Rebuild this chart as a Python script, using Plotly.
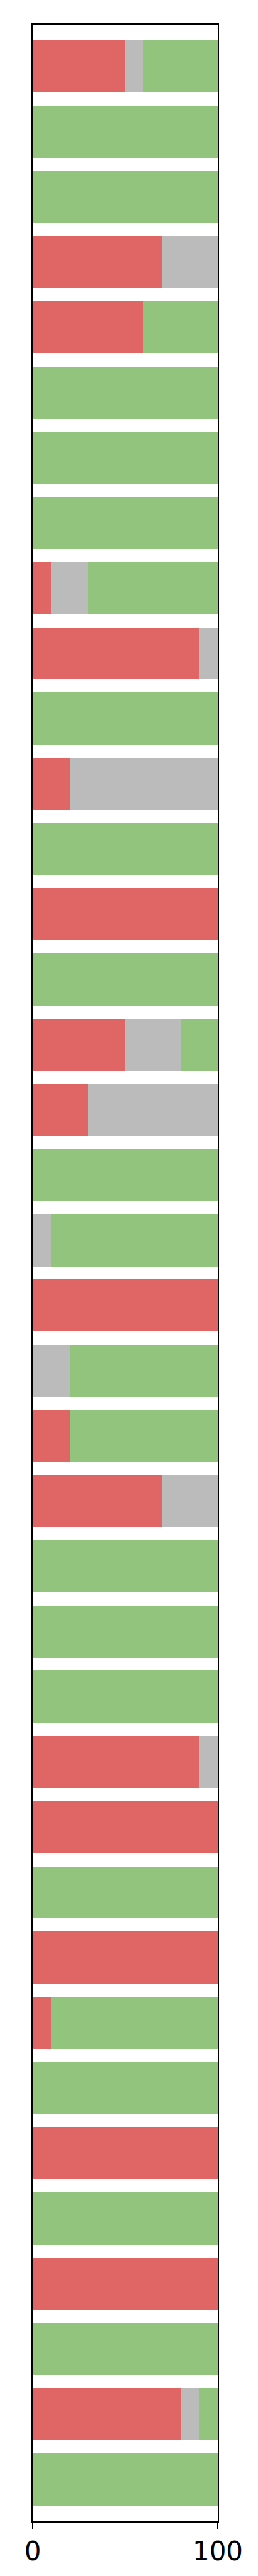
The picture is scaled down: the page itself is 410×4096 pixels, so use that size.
import plotly.graph_objects as go

red_vals = [50, 0, 0, 70, 60, 0, 0, 0, 10, 90, 0, 20, 0, 100, 0, 50, 30, 0, 0, 100,
            0, 20, 70, 0, 0, 0, 90, 100, 0, 100, 10, 0, 100, 0, 100, 0, 80, 0]
gray_vals = [10, 0, 0, 30, 0, 0, 0, 0, 20, 10, 0, 80, 0, 0, 0, 30, 70, 0, 10, 0,
             20, 0, 30, 0, 0, 0, 10, 0, 0, 0, 0, 0, 0, 0, 0, 0, 10, 0]
green_vals = [40, 100, 100, 0, 40, 100, 100, 100, 70, 0, 100, 0, 100, 0, 100, 20, 0, 100, 90, 0,
              80, 80, 0, 100, 100, 100, 0, 0, 100, 0, 90, 100, 0, 100, 0, 100, 10, 100]
rows = list(range(len(red_vals)))
x_ticks = [0, 100]

fig = go.Figure()
for vals, col in [(red_vals, "#e06666"), (gray_vals, "#bbbbbb"), (green_vals, "#93c47d")]:
    fig.add_trace(go.Bar(x=vals, y=rows, orientation="h",
                         marker=dict(color=col, line=dict(width=0)),
                         showlegend=False))

n = len(rows)
fig.update_layout(
    barmode="stack",
    bargap=0.2,
    width=410, height=4096,
    margin=dict(l=44, r=72, t=31, b=95),
    paper_bgcolor="white", plot_bgcolor="white",
    font=dict(family="DejaVu Sans", color="black"),
)
fig.update_xaxes(range=[0, 100], tickvals=x_ticks, ticktext=[str(v) for v in x_ticks],
                 showgrid=False, zeroline=False,
                 showline=True, linecolor="black", linewidth=2, mirror=True,
                 ticks="outside", ticklen=10, tickwidth=2, tickcolor="black",
                 tickfont=dict(size=42, family="DejaVu Sans", color="black"))
fig.update_yaxes(range=[n - 1 + 0.645, -0.645], showticklabels=False, ticks="",
                 showgrid=False, zeroline=False,
                 showline=True, linecolor="black", linewidth=2, mirror=True)

fig.write_html("out.html")
